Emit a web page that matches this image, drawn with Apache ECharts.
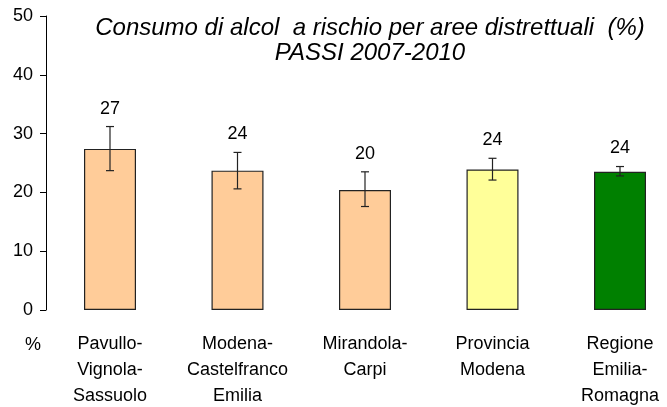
<!DOCTYPE html>
<html>
<head>
<meta charset="utf-8">
<script src="https://cdn.jsdelivr.net/npm/echarts@6/dist/echarts.min.js"></script>
<style>
  html, body { margin: 0; padding: 0; background: #fff; }
  #chart { width: 667px; height: 407px; }
</style>
</head>
<body>
<div id="chart"></div>
<script>
// dati
const categories = ['Pavullo-\nVignola-\nSassuolo', 'Modena-\nCastelfranco\nEmilia', 'Mirandola-\nCarpi', 'Provincia\nModena', 'Regione\nEmilia-\nRomagna'];
const values = [27.4, 23.7, 20.4, 23.9, 23.5];
const lower = [23.7, 20.6, 17.6, 22.1, 22.8];
const upper = [31.2, 26.8, 23.5, 25.8, 24.4];
const barColors = ['#FFCC99', '#FFCC99', '#FFCC99', '#FFFF99', '#008000'];
const yTicks = { min: 0, max: 50, interval: 10 };

const FONT = 'Liberation Sans, Arial, sans-serif';
const chart = echarts.init(document.getElementById('chart'), null, { renderer: 'canvas' });

chart.setOption({
  backgroundColor: '#fff',
  animation: false,
  title: {
    text: 'Consumo di alcol  a rischio per aree distrettuali  (%)\nPASSI 2007-2010',
    left: 370,
    top: 16,
    padding: 0,
    textAlign: 'center',
    textStyle: {
      fontFamily: FONT, fontStyle: 'italic', fontWeight: 'normal',
      fontSize: 24, lineHeight: 25, color: '#000',
    },
  },
  graphic: [{
    type: 'text', left: 25, top: 336,
    style: { text: '%', font: '18px ' + FONT, fill: '#000' },
  }],
  // i centri delle barre sono a passo fisso; l'asse y è spostato a sinistra con offset
  grid: {
    left: 110, right: 47, top: 16, bottom: 97,
    containLabel: false, outerBoundsMode: 'none',
  },
  xAxis: {
    type: 'category',
    data: categories,
    boundaryGap: false,
    axisLine: { show: false },
    axisTick: { show: false },
    axisLabel: {
      fontFamily: FONT, fontSize: 18, color: '#000',
      lineHeight: 26, margin: 21, interval: 0,
    },
  },
  yAxis: {
    type: 'value',
    offset: 64,
    min: yTicks.min, max: yTicks.max, interval: yTicks.interval,
    splitLine: { show: false },
    axisLine: { show: true, lineStyle: { color: '#000', width: 1 } },
    axisTick: { show: true, length: 6, lineStyle: { color: '#000' } },
    axisLabel: { fontFamily: FONT, fontSize: 18, color: '#000', margin: 13 },
  },
  series: [
    {
      type: 'bar',
      barWidth: 52,
      data: values.map((v, i) => ({
        value: v,
        itemStyle: { color: barColors[i], borderColor: '#222', borderWidth: 1.2 },
      })),
      z: 2,
    },
    {
      // barre di errore + etichetta del valore arrotondato
      type: 'custom',
      data: values.map((v, i) => [i, lower[i], upper[i], v]),
      z: 3,
      renderItem: (params, api) => {
        const i = api.value(0);
        const lo = api.coord([i, api.value(1)]);
        const hi = api.coord([i, api.value(2)]);
        const hw = 4;
        const st = { stroke: '#222', lineWidth: 1.2 };
        return {
          type: 'group',
          children: [
            { type: 'line', shape: { x1: hi[0], y1: hi[1], x2: lo[0], y2: lo[1] }, style: st },
            { type: 'line', shape: { x1: hi[0] - hw, y1: hi[1], x2: hi[0] + hw, y2: hi[1] }, style: st },
            { type: 'line', shape: { x1: lo[0] - hw, y1: lo[1], x2: lo[0] + hw, y2: lo[1] }, style: st },
            {
              type: 'text',
              style: {
                x: hi[0], y: hi[1] - 18,
                text: String(Math.round(api.value(3))),
                align: 'center', verticalAlign: 'middle',
                font: '18px ' + FONT, fill: '#000',
              },
            },
          ],
        };
      },
    },
  ],
});
</script>
</body>
</html>
